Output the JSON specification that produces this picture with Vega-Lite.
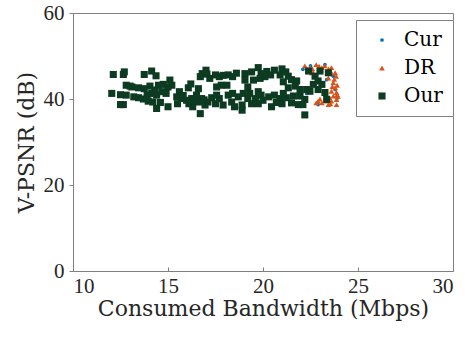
{
  "$schema": "https://vega.github.io/schema/vega-lite/v6.json",
  "width": 380,
  "height": 258,
  "autosize": {"type": "none"},
  "padding": {"left": 73, "top": 13, "right": 12, "bottom": 69},
  "background": "white",
  "config": {
    "font": "Liberation Serif",
    "view": {"stroke": "#808080", "strokeWidth": 1},
    "axis": {
      "grid": false,
      "domainColor": "#808080",
      "tickColor": "#808080",
      "labelColor": "#262626",
      "titleColor": "#262626",
      "labelFont": "Liberation Serif",
      "titleFont": "DejaVu Serif",
      "labelFontSize": 21,
      "titleFontSize": 22,
      "titleFontWeight": "normal"
    }
  },
  "data": {
    "values": [
      {"s": "Cur", "x": 22.1, "y": 46.9}, {"s": "Cur", "x": 22.5, "y": 47.7}, {"s": "Cur", "x": 23.26, "y": 48.0},
      {"s": "Cur", "x": 23.7, "y": 45.3}, {"s": "Cur", "x": 23.8, "y": 42.2}, {"s": "Cur", "x": 22.9, "y": 38.7},
      {"s": "Cur", "x": 23.35, "y": 44.5}, {"s": "Cur", "x": 22.3, "y": 41.3}, {"s": "Cur", "x": 23.9, "y": 40.2},
      {"s": "DR", "x": 22.2, "y": 47.7}, {"s": "DR", "x": 22.47, "y": 47.3}, {"s": "DR", "x": 22.8, "y": 48.0},
      {"s": "DR", "x": 23.1, "y": 47.3}, {"s": "DR", "x": 23.26, "y": 47.7}, {"s": "DR", "x": 23.6, "y": 47.3},
      {"s": "DR", "x": 23.8, "y": 46.1}, {"s": "DR", "x": 22.56, "y": 46.1}, {"s": "DR", "x": 23.44, "y": 44.9},
      {"s": "DR", "x": 23.7, "y": 43.8}, {"s": "DR", "x": 23.8, "y": 42.6}, {"s": "DR", "x": 23.6, "y": 41.8},
      {"s": "DR", "x": 23.87, "y": 41.5}, {"s": "DR", "x": 23.7, "y": 40.7}, {"s": "DR", "x": 23.87, "y": 39.9},
      {"s": "DR", "x": 23.6, "y": 39.5}, {"s": "DR", "x": 23.35, "y": 39.5}, {"s": "DR", "x": 23.1, "y": 39.1},
      {"s": "DR", "x": 22.8, "y": 39.1}, {"s": "DR", "x": 22.4, "y": 41.8}, {"s": "DR", "x": 22.65, "y": 46.1},
      {"s": "DR", "x": 23.87, "y": 38.7}, {"s": "DR", "x": 22.9, "y": 39.5}, {"s": "DR", "x": 23.6, "y": 46.1},
      {"s": "DR", "x": 23.44, "y": 38.7}, {"s": "DR", "x": 23.75, "y": 44.6}, {"s": "DR", "x": 23.9, "y": 43.2},
      {"s": "DR", "x": 23.05, "y": 46.8}, {"s": "DR", "x": 22.35, "y": 46.9}, {"s": "DR", "x": 23.95, "y": 40.6},
      {"s": "DR", "x": 23.5, "y": 40.3}, {"s": "DR", "x": 23.0, "y": 40.0}, {"s": "DR", "x": 23.85, "y": 45.3},
      {"s": "DR", "x": 22.95, "y": 47.6}, {"s": "DR", "x": 23.45, "y": 47.0}, {"s": "DR", "x": 23.65, "y": 42.9},
      {"s": "DR", "x": 23.55, "y": 38.9}, {"s": "DR", "x": 22.6, "y": 47.0}, {"s": "DR", "x": 23.9, "y": 41.0},
      {"s": "Our", "x": 12.12, "y": 45.7}, {"s": "Our", "x": 12.65, "y": 45.7}, {"s": "Our", "x": 12.7, "y": 46.3},
      {"s": "Our", "x": 13.75, "y": 45.7}, {"s": "Our", "x": 14.14, "y": 46.5}, {"s": "Our", "x": 14.37, "y": 45.4},
      {"s": "Our", "x": 12.8, "y": 43.2}, {"s": "Our", "x": 13.1, "y": 42.8}, {"s": "Our", "x": 13.45, "y": 42.6},
      {"s": "Our", "x": 13.75, "y": 42.4}, {"s": "Our", "x": 14.5, "y": 43.2}, {"s": "Our", "x": 14.75, "y": 43.4},
      {"s": "Our", "x": 12.04, "y": 41.3}, {"s": "Our", "x": 12.5, "y": 41.0}, {"s": "Our", "x": 12.8, "y": 40.9},
      {"s": "Our", "x": 13.2, "y": 40.5}, {"s": "Our", "x": 13.45, "y": 40.3}, {"s": "Our", "x": 13.7, "y": 40.0},
      {"s": "Our", "x": 13.96, "y": 39.5}, {"s": "Our", "x": 14.2, "y": 39.3}, {"s": "Our", "x": 14.14, "y": 41.3},
      {"s": "Our", "x": 14.4, "y": 40.9}, {"s": "Our", "x": 14.67, "y": 41.7}, {"s": "Our", "x": 12.5, "y": 38.7},
      {"s": "Our", "x": 14.4, "y": 37.8}, {"s": "Our", "x": 13.9, "y": 40.9}, {"s": "Our", "x": 12.65, "y": 38.7},
      {"s": "Our", "x": 14.05, "y": 43.0}, {"s": "Our", "x": 14.3, "y": 42.1}, {"s": "Our", "x": 14.6, "y": 39.2},
      {"s": "Our", "x": 13.0, "y": 43.0},
      {"s": "Our", "x": 15.1, "y": 44.4}, {"s": "Our", "x": 15.0, "y": 42.8}, {"s": "Our", "x": 15.2, "y": 43.2},
      {"s": "Our", "x": 14.9, "y": 41.3}, {"s": "Our", "x": 15.6, "y": 41.7}, {"s": "Our", "x": 16.07, "y": 42.6},
      {"s": "Our", "x": 16.6, "y": 42.4}, {"s": "Our", "x": 16.7, "y": 45.2}, {"s": "Our", "x": 16.8, "y": 45.9},
      {"s": "Our", "x": 17.0, "y": 46.7}, {"s": "Our", "x": 17.2, "y": 44.8}, {"s": "Our", "x": 17.5, "y": 45.6},
      {"s": "Our", "x": 17.7, "y": 45.2}, {"s": "Our", "x": 17.56, "y": 42.8}, {"s": "Our", "x": 17.8, "y": 43.2},
      {"s": "Our", "x": 15.46, "y": 40.5}, {"s": "Our", "x": 15.7, "y": 40.1}, {"s": "Our", "x": 15.98, "y": 39.7},
      {"s": "Our", "x": 16.25, "y": 40.1}, {"s": "Our", "x": 16.5, "y": 40.9}, {"s": "Our", "x": 16.6, "y": 39.3},
      {"s": "Our", "x": 16.77, "y": 40.1}, {"s": "Our", "x": 16.95, "y": 38.6}, {"s": "Our", "x": 17.1, "y": 39.3},
      {"s": "Our", "x": 15.5, "y": 38.9}, {"s": "Our", "x": 16.3, "y": 38.2}, {"s": "Our", "x": 16.7, "y": 36.6},
      {"s": "Our", "x": 15.0, "y": 38.2}, {"s": "Our", "x": 17.5, "y": 38.9}, {"s": "Our", "x": 17.7, "y": 40.1},
      {"s": "Our", "x": 17.9, "y": 38.6}, {"s": "Our", "x": 17.56, "y": 40.9}, {"s": "Our", "x": 16.4, "y": 39.5},
      {"s": "Our", "x": 16.9, "y": 39.8}, {"s": "Our", "x": 15.8, "y": 40.8}, {"s": "Our", "x": 16.1, "y": 38.9},
      {"s": "Our", "x": 17.3, "y": 40.3}, {"s": "Our", "x": 17.05, "y": 45.8}, {"s": "Our", "x": 17.9, "y": 45.5},
      {"s": "Our", "x": 16.2, "y": 43.5},
      {"s": "Our", "x": 18.17, "y": 45.6}, {"s": "Our", "x": 18.4, "y": 45.2}, {"s": "Our", "x": 19.05, "y": 45.9},
      {"s": "Our", "x": 19.4, "y": 46.3}, {"s": "Our", "x": 19.75, "y": 47.3}, {"s": "Our", "x": 19.9, "y": 45.9},
      {"s": "Our", "x": 20.1, "y": 45.2}, {"s": "Our", "x": 20.4, "y": 45.6}, {"s": "Our", "x": 20.6, "y": 46.7},
      {"s": "Our", "x": 20.9, "y": 45.6}, {"s": "Our", "x": 21.0, "y": 47.0}, {"s": "Our", "x": 19.05, "y": 44.4},
      {"s": "Our", "x": 19.5, "y": 44.4}, {"s": "Our", "x": 19.85, "y": 44.8}, {"s": "Our", "x": 18.1, "y": 43.2},
      {"s": "Our", "x": 18.17, "y": 40.9}, {"s": "Our", "x": 18.4, "y": 41.3}, {"s": "Our", "x": 18.7, "y": 40.5},
      {"s": "Our", "x": 18.96, "y": 41.3}, {"s": "Our", "x": 19.3, "y": 41.3}, {"s": "Our", "x": 19.2, "y": 40.1},
      {"s": "Our", "x": 19.6, "y": 40.1}, {"s": "Our", "x": 19.75, "y": 41.7}, {"s": "Our", "x": 19.9, "y": 40.9},
      {"s": "Our", "x": 20.3, "y": 40.5}, {"s": "Our", "x": 20.6, "y": 40.9}, {"s": "Our", "x": 20.9, "y": 40.1},
      {"s": "Our", "x": 18.35, "y": 39.3}, {"s": "Our", "x": 18.9, "y": 38.6}, {"s": "Our", "x": 18.9, "y": 37.4},
      {"s": "Our", "x": 19.4, "y": 38.9}, {"s": "Our", "x": 19.75, "y": 38.9}, {"s": "Our", "x": 20.45, "y": 38.2},
      {"s": "Our", "x": 21.0, "y": 38.9}, {"s": "Our", "x": 21.07, "y": 44.0}, {"s": "Our", "x": 21.07, "y": 41.3},
      {"s": "Our", "x": 18.6, "y": 46.0}, {"s": "Our", "x": 20.2, "y": 46.4}, {"s": "Our", "x": 19.2, "y": 42.8},
      {"s": "Our", "x": 20.0, "y": 39.7}, {"s": "Our", "x": 20.7, "y": 39.2}, {"s": "Our", "x": 18.5, "y": 38.2},
      {"s": "Our", "x": 21.33, "y": 45.3}, {"s": "Our", "x": 21.5, "y": 44.5}, {"s": "Our", "x": 21.77, "y": 44.2},
      {"s": "Our", "x": 21.33, "y": 42.6}, {"s": "Our", "x": 21.7, "y": 43.0}, {"s": "Our", "x": 21.95, "y": 42.2},
      {"s": "Our", "x": 21.23, "y": 40.3}, {"s": "Our", "x": 21.6, "y": 40.7}, {"s": "Our", "x": 21.95, "y": 40.7},
      {"s": "Our", "x": 22.2, "y": 39.9}, {"s": "Our", "x": 22.1, "y": 38.7}, {"s": "Our", "x": 22.3, "y": 42.2},
      {"s": "Our", "x": 22.47, "y": 41.8}, {"s": "Our", "x": 21.5, "y": 39.1}, {"s": "Our", "x": 21.86, "y": 38.7},
      {"s": "Our", "x": 22.4, "y": 46.5}, {"s": "Our", "x": 22.74, "y": 45.3}, {"s": "Our", "x": 23.0, "y": 46.5},
      {"s": "Our", "x": 22.9, "y": 44.2}, {"s": "Our", "x": 23.1, "y": 43.4}, {"s": "Our", "x": 23.44, "y": 46.1},
      {"s": "Our", "x": 23.26, "y": 41.5}, {"s": "Our", "x": 23.35, "y": 39.9}, {"s": "Our", "x": 22.9, "y": 42.2},
      {"s": "Our", "x": 22.65, "y": 43.4}, {"s": "Our", "x": 21.2, "y": 46.3}, {"s": "Our", "x": 22.2, "y": 36.3}
    ]
  },
  "mark": {"type": "point", "filled": true, "opacity": 1},
  "encoding": {
    "x": {
      "field": "x", "type": "quantitative",
      "scale": {"domain": [10, 30], "nice": false, "zero": false},
      "axis": {"title": "Consumed Bandwidth (Mbps)", "values": [10, 15, 20, 25, 30], "tickSize": -4, "labelPadding": 8, "titlePadding": 2}
    },
    "y": {
      "field": "y", "type": "quantitative",
      "scale": {"domain": [0, 60], "nice": false},
      "axis": {"title": "V-PSNR (dB)", "values": [0, 20, 40, 60], "tickSize": 4, "labelPadding": 5, "titlePadding": 5}
    },
    "color": {
      "field": "s", "type": "nominal",
      "scale": {"domain": ["Cur", "DR", "Our"], "range": ["#0072BD", "#D95319", "#0d3b22"]},
      "legend": {
        "title": null, "orient": "none", "legendX": 283, "legendY": 7,
        "fillColor": "white", "strokeColor": "#808080", "padding": 10,
        "labelFontSize": 20, "labelFont": "DejaVu Serif", "labelColor": "#000000",
        "rowPadding": 8, "labelOffset": 12, "symbolOffset": 6
      }
    },
    "shape": {
      "field": "s", "type": "nominal",
      "scale": {"domain": ["Cur", "DR", "Our"], "range": ["circle", "triangle-up", "square"]}
    },
    "size": {
      "field": "s", "type": "nominal",
      "scale": {"domain": ["Cur", "DR", "Our"], "range": [14, 50, 16]}
    }
  }
}
